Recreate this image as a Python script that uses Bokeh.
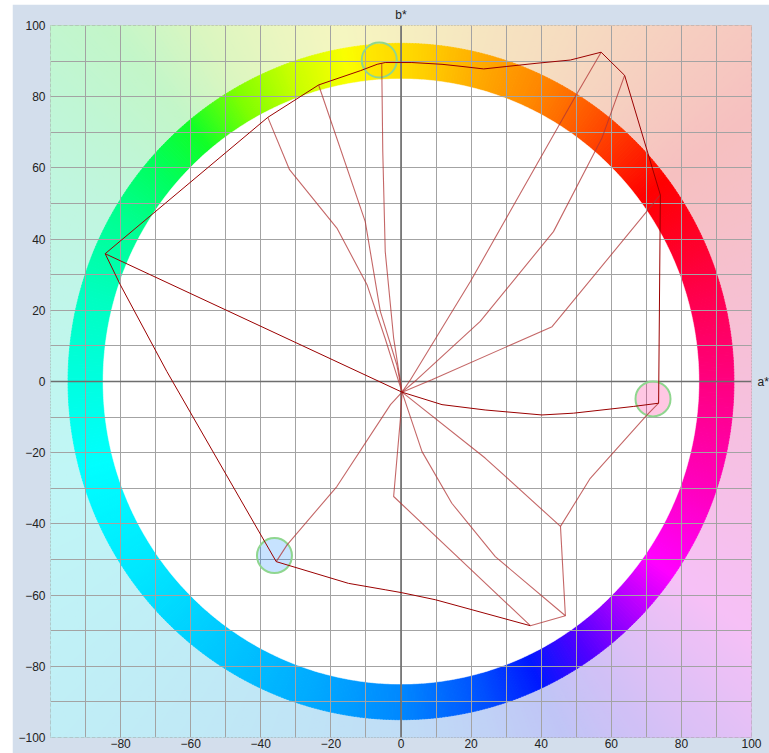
import numpy as np
from bokeh.plotting import figure
from bokeh.models import FixedTicker, Span, LinearAxis, Spacer
from bokeh.layouts import column, row
from bokeh.embed import file_html
from bokeh.resources import INLINE

# ---------------- data ----------------
center_a = 0.3
center_b = -3.0

# reference targets (circles)
target_a = [-6.2, 71.9, -36.1]
target_b = [90.3, -4.9, -48.9]
target_fill = ["#FFC800", "#FF0080", "#0080FF"]

# boundary (dark) paths
top_edge_a = [-84.4, -38.0, -23.5, -11.6, -6.8, -4.5, 3.1, 11.7, 17.4, 23.6, 30.2, 38.8, 48.3, 57.1, 63.8, 74.0, 73.5]
top_edge_b = [35.9, 74.2, 83.3, 87.3, 89.1, 89.6, 89.6, 89.1, 88.5, 87.8, 88.5, 89.4, 90.3, 92.5, 86.0, 52.4, -6.1]
left_edge_a = [-84.4, -80.1, -66.8, -35.6]
left_edge_b = [35.9, 27.2, 2.8, -50.6]
bottom_edge_a = [-35.6, -15.0, -4.5, 0.1, 9.8, 36.9]
bottom_edge_b = [-50.6, -56.7, -58.5, -59.3, -61.3, -68.6]
spoke_green_a = [-84.4, 0.3]
spoke_green_b = [35.9, -3.0]
spoke_magenta_a = [0.3, 11.7, 24.0, 40.2, 49.2, 66.4, 73.5]
spoke_magenta_b = [-3.0, -6.5, -8.0, -9.4, -8.9, -7.0, -6.1]

# lighter paths
right_low_a = [36.9, 46.9, 45.5, 54.0, 70.2, 73.5]
right_low_b = [-68.6, -65.8, -40.7, -27.2, -9.4, -6.1]
spoke_yellow_a = [0.3, -2.1, -4.5, -5.2, -5.5]
spoke_yellow_b = [-3.0, 12.2, 36.5, 64.6, 89.4]
spoke_2_a = [0.3, -1.2, -5.9, -10.2, -23.5]
spoke_2_b = [-3.0, 4.7, 19.7, 44.9, 83.3]
spoke_3_a = [0.3, -4.5, -9.7, -18.3, -31.8, -38.0]
spoke_3_b = [-3.0, 12.0, 27.2, 43.1, 59.5, 74.2]
spoke_blue_a = [0.3, -3.0, -18.3, -32.5, -35.6]
spoke_blue_b = [-3.0, -6.5, -29.5, -45.9, -50.6]
spoke_6_a = [0.3, -0.2, -2.1, 36.9]
spoke_6_b = [-3.0, -10.8, -32.3, -68.6]
spoke_7_a = [0.3, 6.0, 14.5, 26.9, 46.9]
spoke_7_b = [-3.0, -19.7, -34.2, -49.2, -65.8]
spoke_8_a = [0.3, 24.0, 45.5]
spoke_8_b = [-3.0, -21.5, -40.7]
spoke_A_a = [0.3, 2.7, 19.8, 49.7, 57.1]
spoke_A_b = [-3.0, 0.5, 28.1, 80.0, 92.5]
spoke_B_a = [0.3, 4.5, 22.6, 43.5, 57.3, 63.8]
spoke_B_b = [-3.0, 0.5, 16.9, 42.1, 68.3, 86.0]
spoke_C_a = [0.3, 8.8, 43.1, 74.0]
spoke_C_b = [-3.0, 0.5, 15.4, 52.4]

# axis ticks / labels
axis_ticks = list(range(-100, 101, 20))
grid_ticks = list(range(-100, 101, 10))

# hue ring colour stops (hue angle in degrees -> colour)
hue_angles = [0, 15, 30, 37, 45, 55, 65, 75, 85, 95, 100, 110, 120, 130, 140, 150,
              165, 180, 195, 215, 235, 255, 270, 285, 295, 305, 315, 325, 340, 360]
hue_colors = ["#FF0080", "#FF0050", "#FF0018", "#FF0000", "#FF2800", "#FF5A00", "#FF8800",
              "#FFA800", "#FFCC00", "#FFEE00", "#FAFF00", "#C8FF00", "#80FF00", "#10FF28",
              "#00FF60", "#00FF90", "#00FFC0", "#00FFE0", "#00FFFF", "#00E8FF", "#00C8FF",
              "#00A8FF", "#0088FF", "#0050FF", "#0018FF", "#5000FF", "#A800FF", "#FF00FF",
              "#FF00C0", "#FF0080"]

ring_inner = 85
ring_outer = 95
tint_outer = 150

FONT = "Liberation Sans"
TXT = "#222222"


def hex2rgb(h):
    return np.array([int(h[1:3], 16), int(h[3:5], 16), int(h[5:7], 16)], dtype=float)


stop_rgb = [hex2rgb(c) for c in hue_colors]


def hue_rgb(a):
    a = a % 360
    for i in range(len(hue_angles) - 1):
        a0, a1 = hue_angles[i], hue_angles[i + 1]
        if a0 <= a <= a1:
            t = (a - a0) / (a1 - a0)
            return stop_rgb[i] * (1 - t) + stop_rgb[i + 1] * t
    return stop_rgb[-1]


def to_hex(rgb):
    rgb = np.clip(np.round(rgb), 0, 255).astype(int)
    return "#%02x%02x%02x" % tuple(rgb)


# ---------------- figure ----------------
p = figure(frame_width=701, frame_height=712, x_range=(-100, 100), y_range=(-100, 100),
           output_backend="svg", toolbar_location=None, width=757, height=749,
           min_border_left=38, min_border_right=18, min_border_top=20, min_border_bottom=17,
           background_fill_color="#FFFFFF", border_fill_color="#D3DEEC",
           outline_line_color="#A0A0A0")

step = 0.5
angs = np.arange(0, 360, step)
ring_xs, ring_ys, ring_cols = [], [], []
bg_xs, bg_ys, bg_cols = [], [], []
for a in angs:
    th0 = np.radians(a - 0.05)
    th1 = np.radians(a + step + 0.05)
    c = hue_rgb(a + step / 2)
    ring_xs.append([ring_inner * np.cos(th0), ring_outer * np.cos(th0), ring_outer * np.cos(th1), ring_inner * np.cos(th1)])
    ring_ys.append([ring_inner * np.sin(th0), ring_outer * np.sin(th0), ring_outer * np.sin(th1), ring_inner * np.sin(th1)])
    ring_cols.append(to_hex(c))
    bg_xs.append([0, tint_outer * np.cos(th0), tint_outer * np.cos(th1)])
    bg_ys.append([0, tint_outer * np.sin(th0), tint_outer * np.sin(th1)])
    tint = (255 * 0.78 + c * 0.22) * 0.965
    bg_cols.append(to_hex(tint))

r_bg = p.patches(bg_xs, bg_ys, fill_color=bg_cols, line_color=bg_cols, line_width=1)
r_bg.level = "image"
r_ring = p.patches(ring_xs, ring_ys, fill_color=ring_cols, line_color=ring_cols, line_width=0.6)
r_ring.level = "image"
th = np.linspace(0, 2 * np.pi, 721)
r_disc = p.patch(ring_inner * np.cos(th), ring_inner * np.sin(th), fill_color="white", line_color="white", line_width=0.5)
r_disc.level = "image"

# grid
for g in (p.xgrid, p.ygrid):
    g.ticker = FixedTicker(ticks=grid_ticks)
    g.grid_line_color = "#A3A3A3"
    g.grid_line_width = 1

# zero axes
p.add_layout(Span(location=0, dimension="height", line_color="#6E6E6E", line_width=1.6, level="underlay"))
p.add_layout(Span(location=0, dimension="width", line_color="#6E6E6E", line_width=1.6, level="underlay"))


def style_axis(ax):
    ax.axis_line_color = None
    ax.major_tick_line_color = None
    ax.minor_tick_line_color = None
    ax.major_tick_out = 0
    ax.major_tick_in = 0
    ax.minor_tick_out = 0
    ax.minor_tick_in = 0
    ax.major_label_text_font = FONT
    ax.major_label_text_font_size = "12px"
    ax.major_label_text_color = TXT


p.xaxis.ticker = FixedTicker(ticks=[t for t in axis_ticks if t != -100])
p.yaxis.ticker = FixedTicker(ticks=axis_ticks)
for ax in (p.xaxis[0], p.yaxis[0]):
    style_axis(ax)
p.xaxis.major_label_standoff = 1
p.yaxis.major_label_standoff = 5

# axis names as single-tick axes
ax_b = LinearAxis(ticker=FixedTicker(ticks=[0]), major_label_overrides={0: "b*"})
style_axis(ax_b)
ax_b.major_label_standoff = 4
p.add_layout(ax_b, "above")
ax_a = LinearAxis(ticker=FixedTicker(ticks=[0]), major_label_overrides={0: "a*"})
style_axis(ax_a)
ax_a.major_label_standoff = 6
p.add_layout(ax_a, "right")

# target circles
p.scatter(target_a, target_b, marker="circle", size=35, fill_color=target_fill, fill_alpha=0.22,
          line_color="#8FD68F", line_width=2)

# light paths
light = [(right_low_a, right_low_b), (spoke_yellow_a, spoke_yellow_b), (spoke_2_a, spoke_2_b),
         (spoke_3_a, spoke_3_b), (spoke_blue_a, spoke_blue_b), (spoke_6_a, spoke_6_b),
         (spoke_7_a, spoke_7_b), (spoke_8_a, spoke_8_b), (spoke_A_a, spoke_A_b),
         (spoke_B_a, spoke_B_b), (spoke_C_a, spoke_C_b)]
p.multi_line([l[0] for l in light], [l[1] for l in light], line_color="#B03434", line_alpha=0.75, line_width=1.1)

dark = [(top_edge_a, top_edge_b), (left_edge_a, left_edge_b), (bottom_edge_a, bottom_edge_b),
        (spoke_green_a, spoke_green_b), (spoke_magenta_a, spoke_magenta_b)]
p.multi_line([d[0] for d in dark], [d[1] for d in dark], line_color="#9A0000", line_width=1.0)

layout = column(Spacer(height=4, width=769), row(Spacer(width=12, height=749), p))
open("out.html", "w").write(file_html(layout, INLINE))
